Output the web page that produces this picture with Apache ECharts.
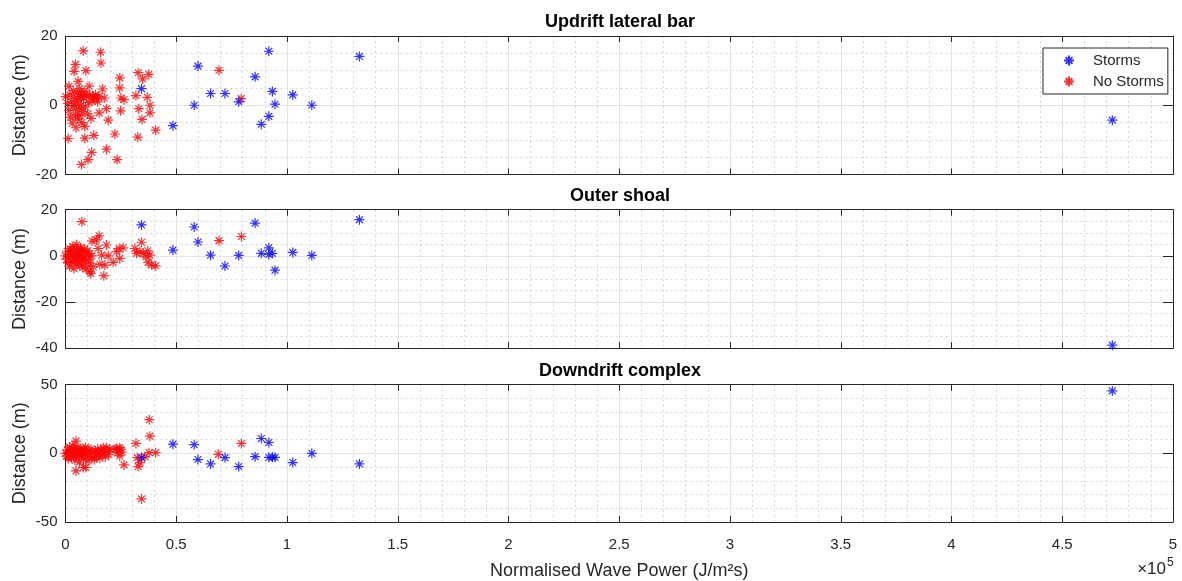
<!DOCTYPE html>
<html><head><meta charset="utf-8">
<script src="https://cdn.jsdelivr.net/npm/echarts@6/dist/echarts.min.js"></script>
<style>html,body{margin:0;padding:0;background:#fff}#chart{width:1182px;height:581px}</style>
</head><body><div id="chart"></div>
<script>
// ---- data (wave power in units of 10^5 J/m^2 s, distance in m) ----
const panelTitles = ['Updrift lateral bar', 'Outer shoal', 'Downdrift complex'];
const xTicks = [0, 0.5, 1, 1.5, 2, 2.5, 3, 3.5, 4, 4.5, 5];
const yTicksUpdrift = [-20, 0, 20];
const yTicksOuter = [-40, -20, 0, 20];
const yTicksDowndrift = [-50, 0, 50];
const legendNames = ['Storms', 'No Storms'];

const stormPower = [0.343, 0.485, 0.581, 0.598, 0.655, 0.720, 0.782, 0.856, 0.884, 0.918, 0.918, 0.934, 0.946, 1.026, 1.112, 1.327, 4.726];
const stormUpdrift = [4.8, -5.9, 0, 11.3, 3.4, 3.4, 1.0, 8.2, -5.5, 15.6, -3.2, 4.0, 0.3, 3.0, 0, 14.1, -4.3];
const stormOuter = [13.4, 2.5, 12.5, 6.0, 0.3, -4.4, 0.2, 14.2, 1.1, 3.5, 0.6, 1.1, -6.2, 1.5, 0.2, 15.7, -38.7];
const stormDowndrift = [-3.1, 6.7, 6.3, -4.5, -7.7, -3.1, -9.6, -2.4, 10.8, 7.9, -2.9, -2.9, -2.9, -6.7, 0, -7.7, 45.5];

const noStormUpdrift = [
  [0.001,2.5],[0.012,-9.6],[0.016,5.5],[0.039,9.8],[0.045,11.8],[0.057,6.9],[0.072,-17.1],[0.080,15.7],
  [0.087,-6.1],[0.087,-9.5],[0.092,10.0],[0.102,-15.7],[0.107,5.5],[0.118,-13.6],[0.125,2.6],[0.128,-8.7],
  [0.140,2.1],[0.152,-2.2],[0.158,15.3],[0.160,12.2],[0.167,4.7],[0.175,2.1],[0.185,-1.0],[0.185,-12.7],
  [0.193,-4.3],[0.223,-8.3],[0.233,-15.7],[0.245,7.9],[0.245,5.0],[0.250,2.1],[0.264,1.6],[0.249,-1.6],
  [0.318,2.8],[0.326,-9.2],[0.328,9.4],[0.331,-1.0],[0.345,-4.1],[0.348,7.6],[0.369,2.3],[0.376,8.9],
  [0.381,0.0],[0.381,-2.2],[0.407,-7.2],[0.693,10.1],[0.793,1.9],
  [0.010,0.5],[0.015,-1.5],[0.020,3.0],[0.022,-3.5],[0.028,1.0],[0.030,-5.2],[0.035,4.2],[0.038,-0.8],
  [0.042,2.0],[0.045,-2.8],[0.048,-6.5],[0.050,0.3],[0.053,3.5],[0.055,-4.0],[0.058,1.5],[0.060,-1.2],
  [0.063,4.8],[0.065,-3.0],[0.068,2.5],[0.070,0.0],[0.073,-5.0],[0.075,3.2],[0.078,-1.8],[0.082,1.8],
  [0.085,4.0],[0.090,-0.5],[0.095,2.8],[0.100,-2.5],[0.105,0.8],[0.110,3.0],[0.115,-3.8],[0.120,1.2],
  [0.130,2.2],[0.135,3.0],[0.145,1.0],[0.150,2.5]
];
const noStormOuter = [
  [0.074,14.8],[0.152,8.7],[0.140,6.9],[0.120,6.4],[0.185,4.7],[0.147,3.2],[0.163,0.3],[0.193,0.0],
  [0.215,-2.8],[0.178,-4.0],[0.155,-3.7],[0.114,-7.6],[0.173,-8.6],[0.125,-4.7],[0.242,3.2],[0.260,3.5],
  [0.230,1.8],[0.245,-1.1],[0.313,3.2],[0.321,1.1],[0.343,5.9],[0.336,1.8],[0.351,1.1],[0.371,2.2],
  [0.363,-0.4],[0.381,0.3],[0.373,-2.8],[0.389,-4.0],[0.407,-4.3],[0.693,6.6],[0.794,8.4],[0.110,-6.9],
  [0.000,0.0],[0.005,-1.5],[0.008,2.0],[0.012,-3.0],[0.015,0.8],[0.018,-4.5],[0.020,3.2],[0.024,-1.0],
  [0.027,1.8],[0.030,-2.5],[0.033,4.0],[0.035,0.2],[0.038,-5.5],[0.040,2.5],[0.043,-1.8],[0.045,1.0],
  [0.048,-3.5],[0.050,4.8],[0.052,0.5],[0.055,-2.2],[0.058,2.8],[0.060,-0.8],[0.062,1.5],[0.065,-4.0],
  [0.068,3.5],[0.070,0.0],[0.073,-2.0],[0.075,2.0],[0.078,-5.0],[0.080,1.2],[0.083,-1.2],[0.086,3.0],
  [0.090,-3.0],[0.093,0.5],[0.096,-5.5],[0.100,2.2],[0.104,-1.5],[0.108,1.0],[0.112,-3.2],[0.118,0.0]
];
const noStormDowndrift = [
  [0.378,24.5],[0.381,12.5],[0.318,7.2],[0.407,0.5],[0.377,0.5],[0.359,-2.4],[0.324,-3.1],[0.328,-9.6],
  [0.336,-6.7],[0.047,-12.8],[0.080,-10.3],[0.092,-10.3],[0.047,8.9],[0.264,-8.4],[0.245,4.1],[0.245,-1.9],
  [0.343,-33.2],[0.690,-0.7],[0.794,7.2],[0.223,2.9],
  [0.000,0.0],[0.005,-2.0],[0.008,2.5],[0.012,-4.0],[0.015,1.0],[0.018,4.5],[0.020,-1.0],[0.024,2.0],
  [0.027,-3.0],[0.030,0.5],[0.033,5.5],[0.036,-1.8],[0.040,3.0],[0.043,-5.0],[0.046,1.2],[0.050,-0.5],
  [0.053,4.0],[0.056,-2.5],[0.060,2.0],[0.063,-6.5],[0.066,0.0],[0.070,3.5],[0.073,-1.5],[0.076,1.5],
  [0.080,-4.0],[0.083,2.8],[0.086,-0.8],[0.090,4.5],[0.094,-2.8],[0.098,1.0],[0.102,-5.5],[0.106,2.2],
  [0.110,-1.2],[0.115,3.0],[0.120,-3.0],[0.125,0.5],[0.130,-4.5],[0.135,1.8],[0.140,-2.0],[0.145,3.2],
  [0.150,0.0],[0.155,-3.5],[0.160,2.5],[0.165,-1.0],[0.170,4.0],[0.175,0.8],[0.180,-2.5],[0.185,4.1],
  [0.190,1.5],[0.195,-1.0],[0.200,3.0],[0.230,3.5],[0.235,0.5],[0.250,3.0],[0.255,1.0]
];

// ---- build chart ----
const FONT = '"Liberation Sans", Arial, Helvetica, sans-serif';
const AXIS = '#262626';
const STAR = 'path://M5,0L5,10M0,5L10,5M1.6,1.6L8.4,8.4M1.6,8.4L8.4,1.6';
const gridTops = [36, 209.7, 384.7];
const gridH = 138.5;
const yTickSets = [yTicksUpdrift, yTicksOuter, yTicksDowndrift];
const yMinorSplits = [4, 4, 5];
const stormY = [stormUpdrift, stormOuter, stormDowndrift];
const noStorm = [noStormUpdrift, noStormOuter, noStormDowndrift];

const grid = [], xAxis = [], yAxis = [], series = [], graphic = [];
for (let i = 0; i < 3; i++) {
  grid.push({left: 65.5, right: 9, top: gridTops[i], height: gridH, show: false});
  const xMin = xTicks[0], xMax = xTicks[xTicks.length - 1], xInt = xTicks[1] - xTicks[0];
  const yt = yTickSets[i];
  const yMin = yt[0], yMax = yt[yt.length - 1], yInt = yt[1] - yt[0];
  xAxis.push({
    gridIndex: i, type: 'value', min: xMin, max: xMax, interval: xInt, position: 'bottom',
    axisLine: {show: true, onZero: false, lineStyle: {color: AXIS, width: 1}},
    axisTick: {show: true, inside: true, length: 6, lineStyle: {color: AXIS}},
    axisLabel: {show: i === 2, color: AXIS, fontSize: 15, fontFamily: FONT, margin: 15},
    splitLine: {show: true, lineStyle: {color: '#e3e3e3', width: 1}},
    minorTick: {show: false, splitNumber: 5},
    minorSplitLine: {show: true, lineStyle: {color: '#d6d6d6', width: 1, type: [2, 3]}},
    name: i === 2 ? 'Normalised Wave Power (J/m²s)' : '',
    nameLocation: 'middle', nameGap: 40, nameMoveOverlap: false,
    nameTextStyle: {color: AXIS, fontSize: 18, fontFamily: FONT}
  });
  xAxis.push({
    gridIndex: i, type: 'value', min: xMin, max: xMax, interval: xInt, position: 'top',
    axisLine: {show: true, onZero: false, lineStyle: {color: AXIS, width: 1}},
    axisTick: {show: true, inside: true, length: 6, lineStyle: {color: AXIS}},
    axisLabel: {show: false}, splitLine: {show: false}
  });
  yAxis.push({
    gridIndex: i, type: 'value', min: yMin, max: yMax, interval: yInt, position: 'left',
    axisLine: {show: true, onZero: false, lineStyle: {color: AXIS, width: 1}},
    axisTick: {show: true, inside: true, length: 10, lineStyle: {color: AXIS}},
    axisLabel: {show: true, color: AXIS, fontSize: 15, fontFamily: FONT, margin: 8},
    splitLine: {show: true, lineStyle: {color: '#e3e3e3', width: 1}},
    minorTick: {show: false, splitNumber: yMinorSplits[i]},
    minorSplitLine: {show: true, lineStyle: {color: '#d6d6d6', width: 1, type: [2, 3]}},
    name: 'Distance (m)', nameLocation: 'middle', nameGap: 36, nameMoveOverlap: false,
    nameTextStyle: {color: AXIS, fontSize: 18, fontFamily: FONT}
  });
  yAxis.push({
    gridIndex: i, type: 'value', min: yMin, max: yMax, interval: yInt, position: 'right',
    axisLine: {show: true, onZero: false, lineStyle: {color: AXIS, width: 1}},
    axisTick: {show: true, inside: true, length: 10, lineStyle: {color: AXIS}},
    axisLabel: {show: false}, splitLine: {show: false}
  });
  series.push({
    type: 'scatter', name: legendNames[1], xAxisIndex: 2 * i, yAxisIndex: 2 * i,
    data: noStorm[i], symbol: STAR, symbolSize: 10, silent: true,
    itemStyle: {color: '#ff0000', borderColor: '#ff0000', borderWidth: 1.2}
  });
  series.push({
    type: 'scatter', name: legendNames[0], xAxisIndex: 2 * i, yAxisIndex: 2 * i,
    data: stormPower.map((p, k) => [p, stormY[i][k]]), symbol: STAR, symbolSize: 10, silent: true,
    itemStyle: {color: '#0000ff', borderColor: '#0000ff', borderWidth: 1.2}
  });
  graphic.push({
    type: 'text', x: 620, y: gridTops[i] - 14, silent: true,
    style: {text: panelTitles[i], fill: '#000', font: 'bold 18px ' + FONT, textAlign: 'center', textVerticalAlign: 'middle'}
  });
}
graphic.push({type: 'text', x: 1166, y: 578, silent: true,
  style: {text: '×10', fill: AXIS, font: '17px ' + FONT, textAlign: 'right', textVerticalAlign: 'bottom'}});
graphic.push({type: 'text', x: 1167, y: 557, silent: true,
  style: {text: '5', fill: AXIS, font: '12px ' + FONT, textAlign: 'left', textVerticalAlign: 'top'}});

const chart = echarts.init(document.getElementById('chart'), null, {renderer: 'canvas'});
chart.setOption({
  animation: false,
  backgroundColor: '#ffffff',
  textStyle: {fontFamily: FONT},
  grid, xAxis, yAxis, series, graphic,
  legend: {
    data: legendNames, orient: 'vertical', left: 1043, top: 48,
    padding: [5, 4, 5, 20], itemGap: 6, itemWidth: 10, itemHeight: 14,
    backgroundColor: '#fff', borderColor: AXIS, borderWidth: 1, borderRadius: 0,
    selectedMode: false,
    textStyle: {color: AXIS, fontSize: 15, fontFamily: FONT, padding: [0, 0, 0, 14]}
  }
});
</script>
</body></html>
